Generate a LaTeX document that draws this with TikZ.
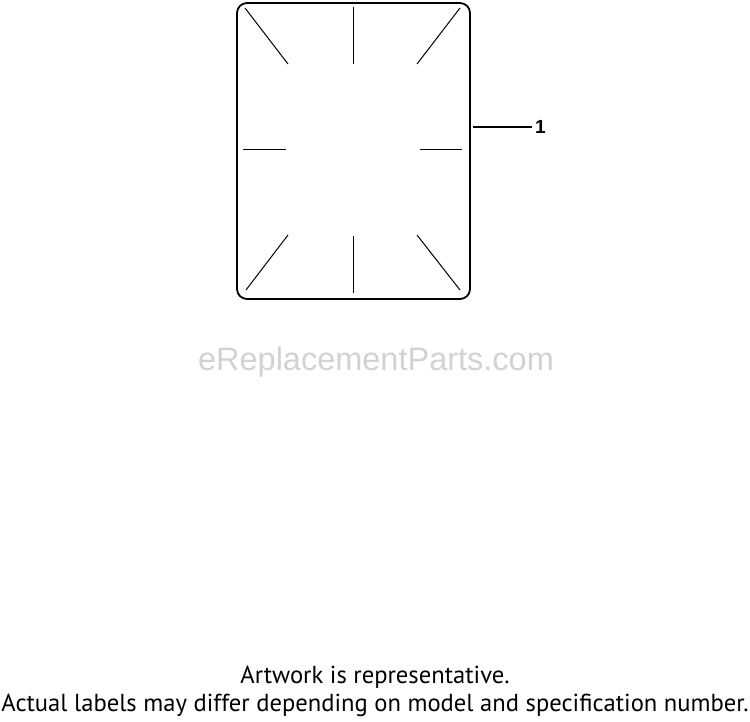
\documentclass[tikz,border=0pt]{standalone}
\usepackage{fontspec}
\setmainfont{PT Sans}
\newfontfamily\arialfont{Liberation Sans}
\usepackage{tikz}

\tikzset{
  panel/.style={draw, line width=1.8pt, rounded corners=10pt,
    minimum width=233pt, minimum height=296pt, inner sep=0pt},
  tick/.style={line width=1pt},
  leader/.style={line width=1.3pt},
  callout/.style={font=\arialfont\bfseries\fontsize{19}{19}\selectfont, inner sep=3pt},
  notetext/.style={font=\fontsize{24.6}{24.6}\selectfont, inner sep=0pt},
}

\begin{document}
\begin{tikzpicture}[x=1pt,y=-1pt]
\useasboundingbox (0,0) rectangle (750,721);

\begin{scope}
\node[panel] (decal) at (353.5,151) {};

% corner ticks
\draw[tick] (245,8) -- (288,64);
\draw[tick] (460,8) -- (417,64);
\draw[tick] (288,235) -- (246,290);
\draw[tick] (417,235) -- (460,290);

% middle ticks
\draw[tick] (353,7) -- (353,64);
\draw[tick] (353,236) -- (353,293);
\draw[tick] (243,149) -- (286,149);
\draw[tick] (420,149) -- (462,149);
\end{scope}

\node[callout, anchor=west] (n1) at (532,127) {1};
\coordinate (tip) at (473,0 |- n1.west);
\draw[leader] (tip) -- (n1.west);

\node[text=gray!35, font=\arialfont\fontsize{32.5}{32.5}\selectfont] (mark) at (376,362) {eReplacementParts.com};

\node[notetext] (note) at (375,677) {Artwork is representative.};
\node[notetext] (note2) at (375,705) {Actual labels may differ depending on model and specification number.};
\end{tikzpicture}
\end{document}
